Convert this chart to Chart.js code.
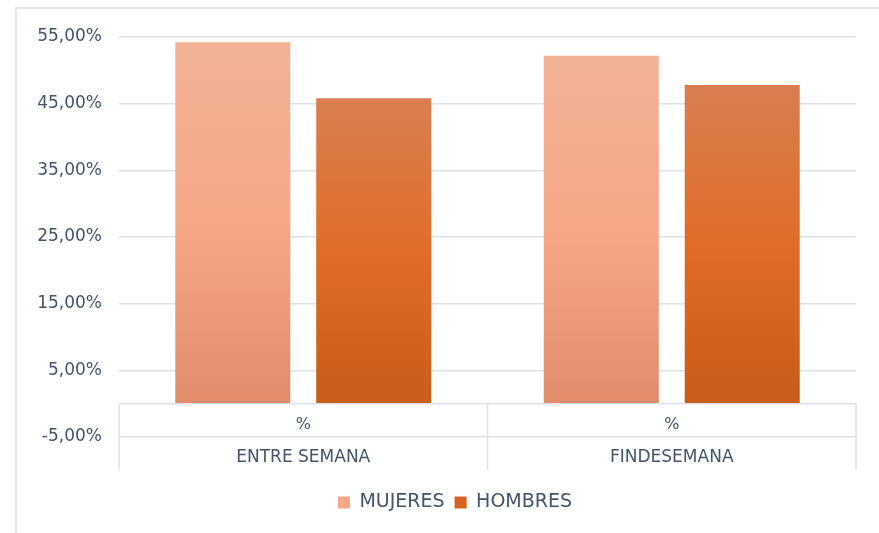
<!DOCTYPE html>
<html>
<head>
<meta charset="utf-8">
<script src="https://cdn.jsdelivr.net/npm/chart.js@4/dist/chart.umd.min.js"></script>
<style>
  html, body { margin: 0; padding: 0; background: #ffffff; }
  #wrap { width: 879px; height: 533px; }
</style>
</head>
<body>
<div id="wrap"><canvas id="c" width="879" height="533"></canvas></div>
<script>
// ---- data ----
const categories = ["ENTRE SEMANA", "FINDESEMANA"];
const subLabels = ["%", "%"];
const seriesNames = ["MUJERES", "HOMBRES"];
const mujeres = [54.2, 52.2];
const hombres = [45.8, 47.8];
const yTicks = [-5, 5, 15, 25, 35, 45, 55];

// ---- style ----
const TEXT = "#44546a";
const GRID = "#dde2e8";
const FONT = "'DejaVu Sans', sans-serif";
const stopsM = ["#f3b296", "#f6a787", "#e28c6c"];
const stopsH = ["#d97e50", "#df6c28", "#c85c18"];
const legendFill = ["#f4a888", "#d8621f"];
const LEGEND_SHIFT = 27;

function gradFill(stops) {
  return (ctx) => {
    const chart = ctx.chart;
    if (!chart.chartArea || ctx.type !== 'data') return stops[1];
    const ys = chart.scales.y;
    const top = ys.getPixelForValue(ctx.raw);
    const base = ys.getPixelForValue(0);
    const g = chart.ctx.createLinearGradient(0, top, 0, base);
    g.addColorStop(0, stops[0]);
    g.addColorStop(0.5, stops[1]);
    g.addColorStop(1, stops[2]);
    return g;
  };
}

const framePlugin = {
  id: 'frame',
  afterLayout(chart) {
    if (chart.legend) {
      chart.legend.left += LEGEND_SHIFT;
      chart.legend.right += LEGEND_SHIFT;
    }
  },
  beforeDraw(chart) {
    const c = chart.ctx;
    c.save();
    c.strokeStyle = GRID;
    c.lineWidth = 1.5;
    c.strokeRect(16, 8, chart.width + 20, chart.height + 20);
    c.restore();
  }
};

const categoryBoxPlugin = {
  id: 'catbox',
  afterDatasetsDraw(chart) {
    const c = chart.ctx;
    const xs = chart.scales.x, ys = chart.scales.y;
    const area = chart.chartArea;
    const y0 = ys.getPixelForValue(0);
    const y1 = ys.getPixelForValue(-5);
    const y2 = y1 + (y1 - y0);
    c.save();
    c.strokeStyle = GRID;
    c.lineWidth = 1.5;
    c.beginPath();
    c.moveTo(area.left, y0); c.lineTo(area.right, y0);
    const n = categories.length;
    const step = (area.right - area.left) / n;
    for (let i = 0; i <= n; i++) {
      const x = area.left + step * i;
      c.moveTo(x, y0); c.lineTo(x, y2);
    }
    c.stroke();
    c.fillStyle = TEXT;
    c.textAlign = 'center';
    c.textBaseline = 'middle';
    categories.forEach((cat, i) => {
      const x = xs.getPixelForTick(i);
      c.font = "16px " + FONT;
      c.fillText(subLabels[i], x, (y0 + y1) / 2 + 5);
      c.font = "17px " + FONT;
      c.fillText(cat, x, (y1 + y2) / 2 + 4);
    });
    c.restore();
  }
};

new Chart(document.getElementById('c'), {
  type: 'bar',
  data: {
    labels: categories,
    datasets: [
      { label: seriesNames[0], data: mujeres, backgroundColor: gradFill(stopsM), borderWidth: 0 },
      { label: seriesNames[1], data: hombres, backgroundColor: gradFill(stopsH), borderWidth: 0 }
    ]
  },
  options: {
    responsive: false,
    animation: false,
    devicePixelRatio: 1,
    layout: { padding: { left: 0, right: 23, top: 37, bottom: 11 } },
    datasets: { bar: { categoryPercentage: 0.765, barPercentage: 0.816 } },
    plugins: {
      legend: {
        position: 'bottom',
        labels: {
          color: TEXT,
          font: { family: FONT, size: 19 },
          boxWidth: 12,
          boxHeight: 12,
          padding: 10,
          generateLabels(chart) {
            const items = Chart.defaults.plugins.legend.labels.generateLabels(chart);
            items.forEach((it, i) => { it.fillStyle = legendFill[i]; it.strokeStyle = legendFill[i]; it.lineWidth = 0; });
            return items;
          }
        }
      },
      tooltip: { enabled: false }
    },
    scales: {
      x: {
        grid: { display: false },
        border: { display: false },
        ticks: { display: false },
        afterFit(scale) { scale.height = 46; }
      },
      y: {
        min: -5,
        max: 55,
        afterBuildTicks(scale) { scale.ticks = yTicks.map(v => ({ value: v })); },
        afterFit(scale) { scale.width = 119; },
        grid: { color: GRID, lineWidth: 1.5, drawTicks: false },
        border: { display: false },
        ticks: {
          padding: 17,
          color: TEXT,
          font: { family: FONT, size: 17 },
          callback: (v) => v.toFixed(2).replace('.', ',') + '%'
        }
      }
    }
  },
  plugins: [framePlugin, categoryBoxPlugin]
});
</script>
</body>
</html>
